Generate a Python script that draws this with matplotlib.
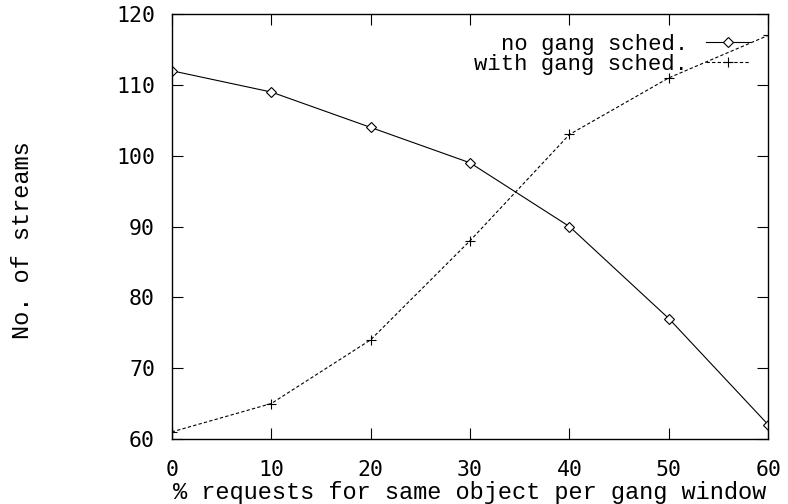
import matplotlib
matplotlib.use("Agg")
import matplotlib.pyplot as plt

x = [0, 10, 20, 30, 40, 50, 60]
no_gang = [112, 109, 104, 99, 90, 77, 62]
with_gang = [61, 65, 74, 88, 103, 111, 117]

plt.rcParams['font.family'] = ['Liberation Mono', 'DejaVu Sans Mono']
plt.rcParams['font.size'] = 17

fig = plt.figure(figsize=(7.88, 5.04), dpi=100)
ax = fig.add_axes([0.218, 0.129, 0.757, 0.843])

ax.plot(x, no_gang, color='black', lw=0.8, marker='D', markersize=5,
        markerfacecolor='white', markeredgewidth=0.8, label='no gang sched.')
ax.plot(x, with_gang, color='black', lw=0.8, ls=(0, (3, 2)), marker='+',
        markersize=7, markeredgewidth=0.8, label='with gang sched.')

ax.set_xlim(0, 60)
ax.set_ylim(60, 120)
ax.set_xticks(x)
ax.set_yticks(range(60, 121, 10))
ax.tick_params(axis='x', direction='in', top=True, length=8, width=0.8, pad=15)
ax.tick_params(axis='y', direction='in', right=True, length=8, width=0.8, pad=12)
for lab in ax.get_xticklabels() + ax.get_yticklabels():
    lab.set_fontfamily('DejaVu Sans Mono')
    lab.set_fontsize(15.5)
for s in ax.spines.values():
    s.set_linewidth(1.0)

ax.set_xlabel('% requests for same object per gang window', labelpad=1)
fig.text(0.028, 0.524, 'No. of streams', rotation=90, ha='center', va='center')

ax.legend(loc='upper right', frameon=False, markerfirst=False, handlelength=2.0,
          borderaxespad=0.0, labelspacing=-0.05, handletextpad=0.8, fontsize=16,
          bbox_to_anchor=(0.985, 0.975))

fig.savefig('out.png', dpi=100)
